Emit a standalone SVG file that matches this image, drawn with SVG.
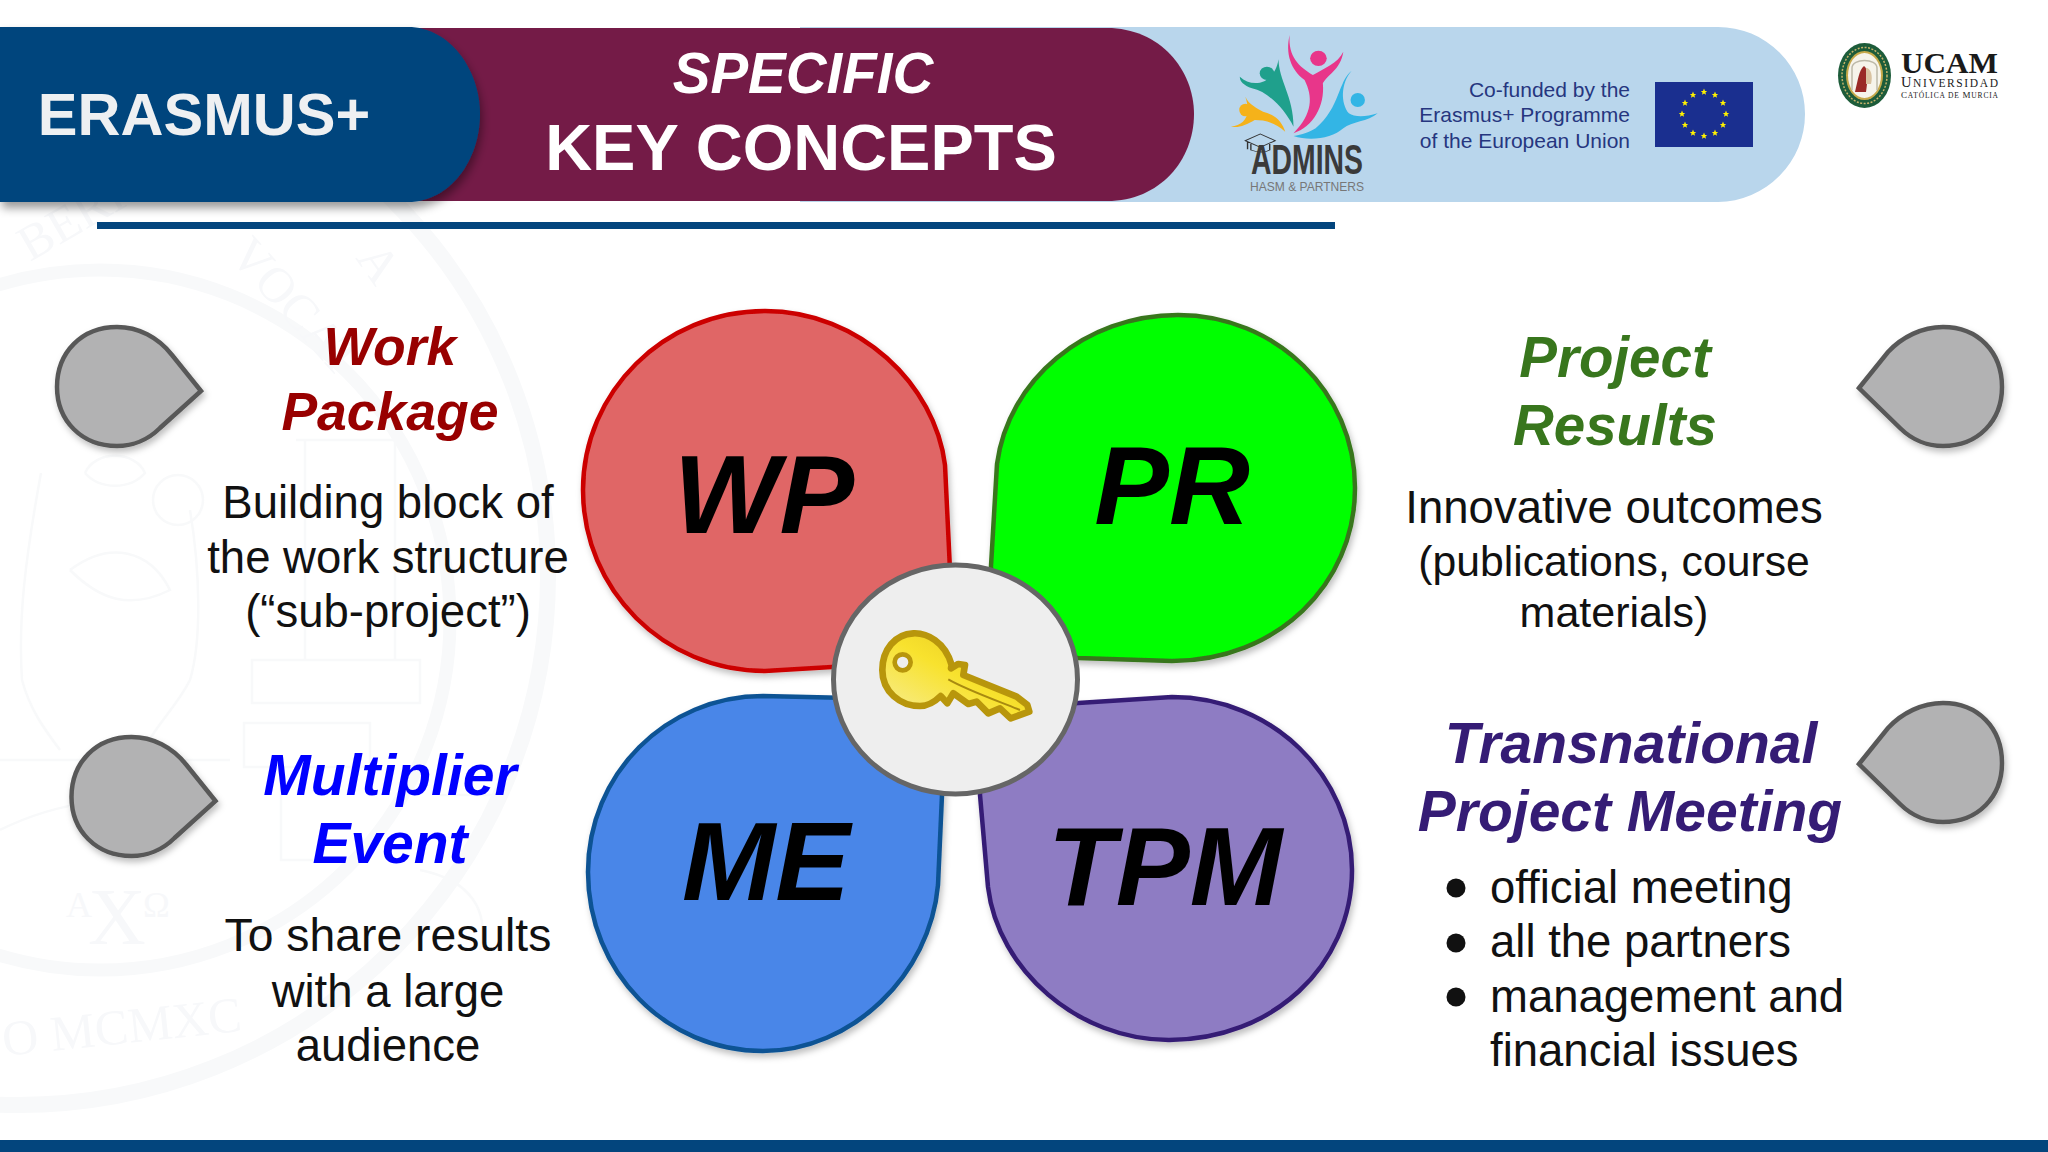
<svg xmlns="http://www.w3.org/2000/svg" width="2048" height="1152" viewBox="0 0 2048 1152">
<defs>
<style>
text{font-family:"Liberation Sans",Arial,sans-serif}
.t{font-weight:bold;font-style:italic;text-anchor:middle;font-size:57px}
.b{font-size:45.5px;text-anchor:middle;fill:#111}
.bl{font-size:45.5px;fill:#111}
.big{font-weight:bold;font-style:italic;text-anchor:middle;font-size:112px;fill:#000}
.tear{fill:#b2b2b3;stroke:#595959;stroke-width:4.5;filter:url(#sh)}
.pet{stroke-width:4.5;filter:url(#sh)}
.wm{fill:none;stroke:#f8f9fa}
.wl{fill:none;stroke:#f8f9fa;stroke-width:2.5}
.wt{fill:#f7f8fa;font-family:"Liberation Serif",serif;font-size:50px}
.cf{font-size:21px;fill:#26367f;text-anchor:end}
.st{fill:#fff200}
.se{font-family:"Liberation Serif",serif;fill:#1a1a1a}
</style>
<filter id="sh" x="-10%" y="-10%" width="125%" height="125%"><feDropShadow dx="2" dy="4" stdDeviation="3" flood-color="#000" flood-opacity=".25"/></filter>
<filter id="sh2" x="-10%" y="-10%" width="125%" height="130%"><feDropShadow dx="2" dy="6" stdDeviation="5" flood-color="#000" flood-opacity=".4"/></filter>
<linearGradient id="kg" x1="0" y1="1" x2="1" y2="0"><stop offset="0" stop-color="#f7ee98"/><stop offset=".5" stop-color="#f8e22e"/><stop offset="1" stop-color="#e2c21c"/></linearGradient>
<path id="star" d="M0-3.4 1-1 3.2-1 1.4.5 2.1 2.8 0 1.5-2.1 2.8-1.4.5-3.2-1-1-1Z"/>
</defs>
<rect width="2048" height="1152" fill="#fff"/>
<g id="watermark">
<circle class="wm" cx="18" cy="575" r="530" stroke-width="16"/>
<circle class="wm" cx="100" cy="620" r="350" stroke-width="13"/>
<path class="wl" d="M41 473C25 560 18 620 22 680C30 710 45 730 60 750M190 510C200 570 202 640 190 680C175 710 150 730 140 760M85 473C95 450 135 450 145 473C130 490 100 490 85 473M70 570C110 540 150 550 170 590C130 610 100 600 70 570"/>
<circle class="wl" cx="178" cy="500" r="25"/>
<path class="wl" d="M296 440H407M305 440V660M395 440V660M252 660H420V703H252ZM244 723H370V767H244ZM281 767V860H370M0 760H230M0 830C60 800 120 795 200 800"/>
<text class="wt" x="66" y="917" style="font-size:36px">A</text>
<text class="wt" x="88" y="944" style="font-size:80px">X</text>
<text class="wt" x="143" y="917" style="font-size:36px">Ω</text>
<text class="wt" transform="translate(4,1056) rotate(-6)">O MCMXC</text>
<text class="wt" transform="translate(30,262) rotate(-30)">BERI</text>
<text class="wt" transform="translate(228,256) rotate(48)">VOCAT</text>
<text class="wt" transform="translate(355,258) rotate(55)">A</text>
<path class="wl" d="M440 795H500M420 870C470 880 490 910 480 950"/>
</g>
<g id="header">
<rect x="800" y="27" width="830" height="175" fill="#b9d6ec"/>
<path d="M1600 27H1718A87 87 0 0 1 1805 114A88 88 0 0 1 1718 202H1600Z" fill="#b9d6ec"/>
<path d="M300 28H1107C1160 28 1194 70 1194 114C1194 160 1160 201 1107 201H300Z" fill="#741b47"/>
<path d="M0 27H408C450 27 480 70 480 114C480 160 450 202 408 202H0Z" fill="#03457d" filter="url(#sh2)"/>
<text x="204" y="135" font-size="59.500" font-weight="bold" text-anchor="middle" fill="#eef0f2">ERASMUS+</text>
<text x="803" y="93" font-size="56.500" font-weight="bold" font-style="italic" text-anchor="middle" fill="#fff">SPECIFIC</text>
<text x="801" y="170" font-size="65" font-weight="bold" text-anchor="middle" fill="#fff">KEY CONCEPTS</text>
<rect x="97" y="222" width="1238" height="7" fill="#03457d"/>
</g>
<g id="admins-logo">
<g transform="translate(1180,0) scale(.5537,.3333)">
<ellipse cx="250" cy="175" rx="15" ry="23" fill="#e8368a"/>
<path d="M198 105C195 170 215 200 240 225C260 205 285 190 295 155C290 210 265 225 258 250C262 320 240 380 205 400C240 340 240 290 225 240C200 210 190 160 198 105Z" fill="#e8368a"/>
<ellipse cx="157" cy="220" rx="13" ry="20" fill="#1fa08c"/>
<path d="M108 230C130 265 170 255 178 178C178 240 205 290 205 380C190 330 160 275 130 265C115 255 108 245 108 230Z" fill="#1fa08c"/>
<ellipse cx="321" cy="300" rx="13" ry="21" fill="#33b5e5"/>
<path d="M310 212C285 245 290 320 245 385C235 395 220 405 205 408C235 425 275 415 295 385C310 365 340 365 357 340C335 352 315 352 305 340C290 310 290 250 310 212Z" fill="#33b5e5"/>
<ellipse cx="118" cy="330" rx="11" ry="19" fill="#f5b21a"/>
<path d="M118 290C125 315 140 325 150 335C175 345 185 370 190 395C170 365 150 360 135 360C120 375 105 385 92 380C115 375 130 350 118 290Z" fill="#f5b21a"/>
<path d="M118 422L145 402L172 422L145 442ZM128 432V450C140 458 155 458 162 450V432M122 425V448" fill="none" stroke="#333" stroke-width="2.5"/>
</g>
<text x="1251" y="174" font-size="42" font-weight="bold" fill="#3a3a3a" textLength="112" lengthAdjust="spacingAndGlyphs">ADMINS</text>
<text x="1250" y="191" font-size="13" fill="#777" textLength="114" lengthAdjust="spacingAndGlyphs">HASM &amp; PARTNERS</text>
</g>
<g id="eu-funding">
<text class="cf" x="1630" y="97">Co-funded by the</text>
<text class="cf" x="1630" y="122">Erasmus+ Programme</text>
<text class="cf" x="1630" y="148">of the European Union</text>
<rect x="1655" y="82" width="98" height="65" fill="#1a2f8f"/>
<g class="st" transform="translate(1704,114)">
<use href="#star" x="0" y="-22"/><use href="#star" x="11" y="-19"/><use href="#star" x="19" y="-11"/><use href="#star" x="22" y="0"/><use href="#star" x="19" y="11"/><use href="#star" x="11" y="19"/><use href="#star" x="0" y="22"/><use href="#star" x="-11" y="19"/><use href="#star" x="-19" y="11"/><use href="#star" x="-22" y="0"/><use href="#star" x="-19" y="-11"/><use href="#star" x="-11" y="-19"/>
</g>
</g>
<g id="ucam-logo">
<ellipse cx="1864.500" cy="75.500" rx="26.500" ry="32.500" fill="#1d5c3a"/>
<ellipse cx="1864.500" cy="75.500" rx="22.500" ry="28" fill="none" stroke="#c6b36a" stroke-width="1.500" stroke-dasharray="2 1.500"/>
<ellipse cx="1864.500" cy="75.500" rx="18.500" ry="24.500" fill="#c6a94a"/>
<ellipse cx="1864.500" cy="75.500" rx="16.500" ry="22.500" fill="#f6f4ea"/>
<path d="M1855 92C1858 80 1859 70 1864 66C1868 68 1868 80 1866 92Z" fill="#9a2a26"/>
<path d="M1866 68C1871 68 1873 76 1871 84L1866 84Z" fill="#d9c3a0"/>
<path d="M1852 90V68C1852 58 1877 58 1877 68V90" fill="none" stroke="#bdb9a8" stroke-width="1.500"/>
<text class="se" x="1901" y="73" font-size="29" font-weight="bold" textLength="97" lengthAdjust="spacingAndGlyphs" style="font-family:'Liberation Serif',serif">UCAM</text>
<text class="se" x="1901" y="87" font-size="11.500" textLength="97" style="font-family:'Liberation Serif',serif"><tspan font-size="14.500">U</tspan>NIVERSIDAD</text>
<text class="se" x="1901" y="98" font-size="7.500" textLength="97" style="font-family:'Liberation Serif',serif"><tspan font-size="9">C</tspan>ATÓLICA DE <tspan font-size="9">M</tspan>URCIA</text>
</g>
<g id="marker-wp"><path class="tear" d="M201 391L172 355C158 337 138 327 117 327C82 327 57 352 57 387C57 421 82 446 117 446C132 446 148 440 160 428Z"/></g>
<g id="marker-me"><path class="tear" d="M215.500 801L186.500 765C172.500 747 152.500 737 131.500 737C96.500 737 71.500 762 71.500 797C71.500 831 96.500 856 131.500 856C146.500 856 162.500 850 174.500 838Z"/></g>
<g id="marker-pr"><path class="tear" d="M1859 388L1888 352C1902 337 1922 327 1943 327C1978 327 2002 352 2002 387C2002 421 1978 446 1943 446C1928 446 1912 440 1900 428Z"/></g>
<g id="marker-tpm"><path class="tear" d="M1859 764L1888 728C1902 713 1922 703 1943 703C1978 703 2002 728 2002 763C2002 797 1978 822 1943 822C1928 822 1912 816 1900 804Z"/></g>
<g id="text-wp">
<text class="t" x="390" y="365" fill="#980000" style="font-size:53.500px">Work</text>
<text class="t" x="390" y="430" fill="#980000" style="font-size:53.500px">Package</text>
<text class="b" x="388" y="518">Building block of</text>
<text class="b" x="388" y="573">the work structure</text>
<text class="b" x="388" y="627">(“sub-project”)</text>
</g>
<g id="text-me">
<text class="t" x="390" y="795" fill="#0000ff">Multiplier</text>
<text class="t" x="390" y="863" fill="#0000ff">Event</text>
<text class="b" x="388" y="951" style="font-size:46.300px">To share results</text>
<text class="b" x="388" y="1007">with a large</text>
<text class="b" x="388" y="1061">audience</text>
</g>
<g id="text-pr">
<text class="t" x="1615" y="377" fill="#38761d" style="font-size:56.500px">Project</text>
<text class="t" x="1615" y="445" fill="#38761d" style="font-size:56.500px">Results</text>
<text class="b" x="1614" y="523">Innovative outcomes</text>
<text class="b" x="1614" y="576" style="font-size:42.700px">(publications, course</text>
<text class="b" x="1614" y="627" style="font-size:43px">materials)</text>
</g>
<g id="text-tpm">
<text class="t" x="1631" y="763" fill="#351c75">Transnational</text>
<text class="t" x="1630" y="831" fill="#351c75">Project Meeting</text>
<circle cx="1456" cy="888" r="9.500" fill="#111"/><text class="bl" x="1490" y="903">official meeting</text>
<circle cx="1456" cy="943" r="9.500" fill="#111"/><text class="bl" x="1490" y="957">all the partners</text>
<circle cx="1456" cy="997" r="9.500" fill="#111"/><text class="bl" x="1490" y="1012">management and</text>
<text class="bl" x="1490" y="1066">financial issues</text>
</g>
<g id="node-wp">
<path class="pet" fill="#e06666" stroke="#cc0000" d="M765 311C860 311 935 385 945 465L950 570V664L832 667L765 671C664 671 583 590 583 490C583 392 664 311 765 311Z"/>
<text class="big" x="764" y="533">WP</text>
</g>
<g id="node-pr">
<path class="pet" fill="#00ff00" stroke="#38761d" d="M1178 315C1276 315 1355 392 1355 488C1355 585 1276 661 1172 661L1078 658L991 650V566L997 464C1008 380 1085 315 1178 315Z"/>
<text class="big" x="1172" y="524">PR</text>
</g>
<g id="node-me">
<path class="pet" fill="#4a86e8" stroke="#0b5394" d="M763 696L850 698L942 710V795L938 885C930 975 852 1051 763 1051C666 1051 588 972 588 872C588 774 666 696 763 696Z"/>
<text class="big" x="766" y="900">ME</text>
</g>
<g id="node-tpm">
<path class="pet" fill="#8e7cc3" stroke="#351c75" d="M1172 697C1272 697 1352 776 1352 870C1352 966 1272 1040 1169 1040C1078 1040 998 970 988 887L980 795V710L1078 703Z"/>
<text class="big" x="1165" y="905" style="font-size:111px">TPM</text>
</g>
<g id="node-key">
<ellipse cx="955.500" cy="679.500" rx="122" ry="114.500" fill="#eeeeee" stroke="#666" stroke-width="5"/>
<g transform="translate(820,560) scale(.3333)">
<path fill="url(#kg)" stroke="#b8960c" stroke-width="20" stroke-linejoin="round" d="M395 315C375 245 320 218 280 220C225 222 187 270 187 330C187 395 240 438 300 438C325 438 345 425 362 408L382 430L400 400L445 432L470 425L505 460L540 445L572 475L628 455L622 435L590 410L430 345L435 315L415 312L393 325Z"/>
<circle cx="248" cy="307" r="24" fill="#eee" stroke="#b8960c" stroke-width="14"/>
<path d="M385 358C440 390 540 425 600 450" fill="none" stroke="#a88a10" stroke-width="6"/>
</g>
</g>
<rect id="footer" x="0" y="1140" width="2048" height="12" fill="#03457d"/>
</svg>
